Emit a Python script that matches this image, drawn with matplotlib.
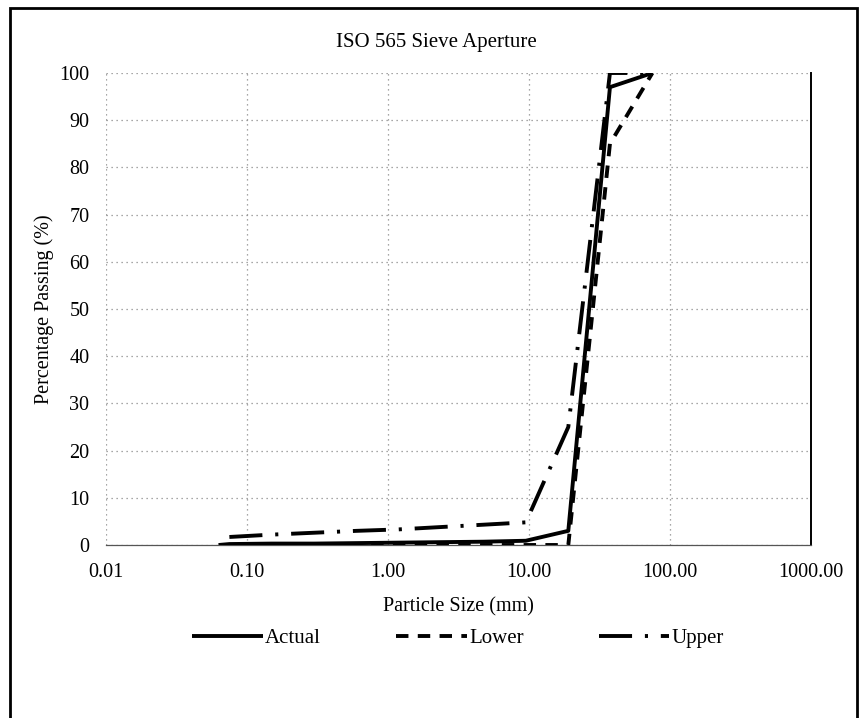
import matplotlib
matplotlib.use("Agg")
import matplotlib.pyplot as plt
from matplotlib.patches import Rectangle
from matplotlib.ticker import FixedLocator, NullLocator

plt.rcParams['font.family'] = ['Liberation Serif', 'DejaVu Serif']

# sieve sizes (mm) and percentage passing
actual_size = [0.063, 0.075, 0.15, 0.3, 0.6, 1.18, 2.36, 4.75, 9.5, 19, 37.5, 75]
actual_pass = [0, 0.2, 0.3, 0.3, 0.4, 0.5, 0.6, 0.7, 0.9, 3, 97, 100]

lower_size = [0.063, 0.075, 0.15, 0.3, 0.6, 1.18, 2.36, 4.75, 9.5, 19, 37.5, 75]
lower_pass = [0, 0, 0, 0, 0, 0, 0, 0, 0, 0, 85, 100]

upper_size = [0.075, 0.15, 0.3, 0.6, 1.18, 2.36, 4.75, 9.5, 19, 37.5, 75]
upper_pass = [1.7, 2.2, 2.6, 3.0, 3.3, 3.8, 4.3, 4.8, 25, 100, 100]

x_ticks = [0.01, 0.1, 1, 10, 100, 1000]
x_labels = ['0.01', '0.10', '1.00', '10.00', '100.00', '1000.00']
y_ticks = list(range(0, 101, 10))

W, H = 863, 718
fig = plt.figure(figsize=(W / 100, H / 100), dpi=100)
fig.patch.set_facecolor('white')

# plot area in pixels: x 106..811, y 73..545
ax = fig.add_axes([106 / W, 1 - 545 / H, 705 / W, 472 / H])

ax.plot(actual_size, actual_pass, color='black', lw=2.8, solid_capstyle='butt', label='Actual', zorder=4)
ax.plot(lower_size, lower_pass, color='black', lw=2.8, linestyle=(0, (3.2, 2.4)), label='Lower', zorder=3)
ax.plot(upper_size, upper_pass, color='black', lw=2.8, linestyle=(0, (8.5, 3.3, 0.8, 3.3)), label='Upper', zorder=3)

ax.set_xscale('log')
ax.set_xlim(0.01, 1000)
ax.set_ylim(0, 100)
ax.xaxis.set_major_locator(FixedLocator(x_ticks))
ax.xaxis.set_minor_locator(NullLocator())
ax.set_xticklabels(x_labels)
ax.set_yticks(y_ticks)
ax.tick_params(length=0, labelsize=14.5)
ax.tick_params(axis='x', pad=13)
ax.tick_params(axis='y', pad=12)

ax.grid(True, which='major', color='#8a8a8a', linestyle=(0, (1, 3)), lw=0.9)
ax.set_axisbelow(True)

for s in ['left', 'top']:
    ax.spines[s].set_visible(False)
ax.spines['right'].set_color('black')
ax.spines['right'].set_linewidth(1.4)
ax.spines['bottom'].set_color('#555555')
ax.spines['bottom'].set_linewidth(0.9)

ax.set_xlabel('Particle Size (mm)', fontsize=14.5, labelpad=11)
ax.set_ylabel('Percentage Passing (%)', fontsize=14.5, labelpad=4)

fig.text(436 / W, 1 - 42 / H, 'ISO 565 Sieve Aperture', ha='center', va='center', fontsize=15)

fig.legend(loc='center', bbox_to_anchor=(458 / W, 1 - 638 / H), ncol=3, frameon=False,
           fontsize=15, handlelength=3.4, handletextpad=0.1, columnspacing=3.6)

# outer chart border
fig.add_artist(Rectangle((10 / W, -0.01), 847 / W, 1 - 8 / H + 0.01, transform=fig.transFigure,
                         fill=False, edgecolor='black', lw=2))

fig.savefig('out.png', dpi=100)
